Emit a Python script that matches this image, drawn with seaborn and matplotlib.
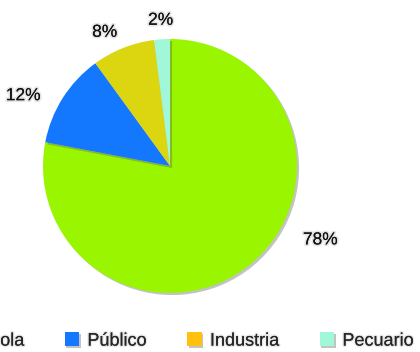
import matplotlib
matplotlib.use("Agg")
import matplotlib.pyplot as plt
import matplotlib.patheffects as pe
from matplotlib.patches import Patch
import numpy as np
import seaborn as sns

sns.set_theme(style="white")
plt.rcParams['font.family'] = ['Liberation Sans', 'DejaVu Sans']

# Water use by sector (percent)
sectors = ["Agrícola", "Público", "Industria", "Pecuario"]
shares = [78, 12, 8, 2]
slice_colors = ["#99F500", "#1478FE", "#DBD60F", "#A0F8D8"]
legend_colors = ["#99F500", "#1478FE", "#FFC10E", "#A0F8D8"]
label_dist = [1.31, 1.29, 1.19, 1.17]
label_shift = [25, 6, 4, 0]  # angular nudge (degrees) for each value label

fig = plt.figure(figsize=(4.2, 3.52), dpi=100)
ax = fig.add_axes([0, 0, 1, 1])

wedges, _ = ax.pie(shares, colors=slice_colors, startangle=90,
                   counterclock=False, radius=1,
                   wedgeprops=dict(linewidth=0))
for w in wedges:
    w.set_path_effects([pe.SimplePatchShadow(offset=(1.5, -1.5), shadow_rgbFace="#555555", alpha=0.35),
                        pe.Normal()])

text_fx = [pe.withStroke(linewidth=2.5, foreground="#e4e4e4"), pe.Normal()]
for w, v, d, s in zip(wedges, shares, label_dist, label_shift):
    mid = np.deg2rad((w.theta1 + w.theta2) / 2 + s)
    ax.text(d * np.cos(mid), d * np.sin(mid) - 0.02, f"{v}%", ha="center", va="center",
            fontsize=12.5, color="#111111", path_effects=text_fx)

# pie centred at (170, 166) px with a 127 px radius
W, H, cx, cy, r = 420, 352, 170, 166, 127
ax.set_xlim(-cx / r, (W - cx) / r)
ax.set_ylim(-(H - cy) / r, cy / r)
ax.set_aspect("auto")
ax.axis("off")

handles = [Patch(facecolor=c, edgecolor="none") for c in legend_colors]
leg = fig.legend(handles, sectors, loc="center", bbox_to_anchor=(174.5 / W, 1 - 341 / H),
                 ncol=4, frameon=False, fontsize=13, handlelength=0.8, handleheight=0.8,
                 handletextpad=0.45, columnspacing=2.25)
for t in leg.get_texts():
    t.set_path_effects([pe.withStroke(linewidth=2, foreground="#e8e8e8"), pe.Normal()])
for h in leg.legend_handles:
    h.set_path_effects([pe.SimplePatchShadow(offset=(1, -1), shadow_rgbFace="#555555", alpha=0.35),
                        pe.Normal()])

fig.savefig("out.png", dpi=100)
